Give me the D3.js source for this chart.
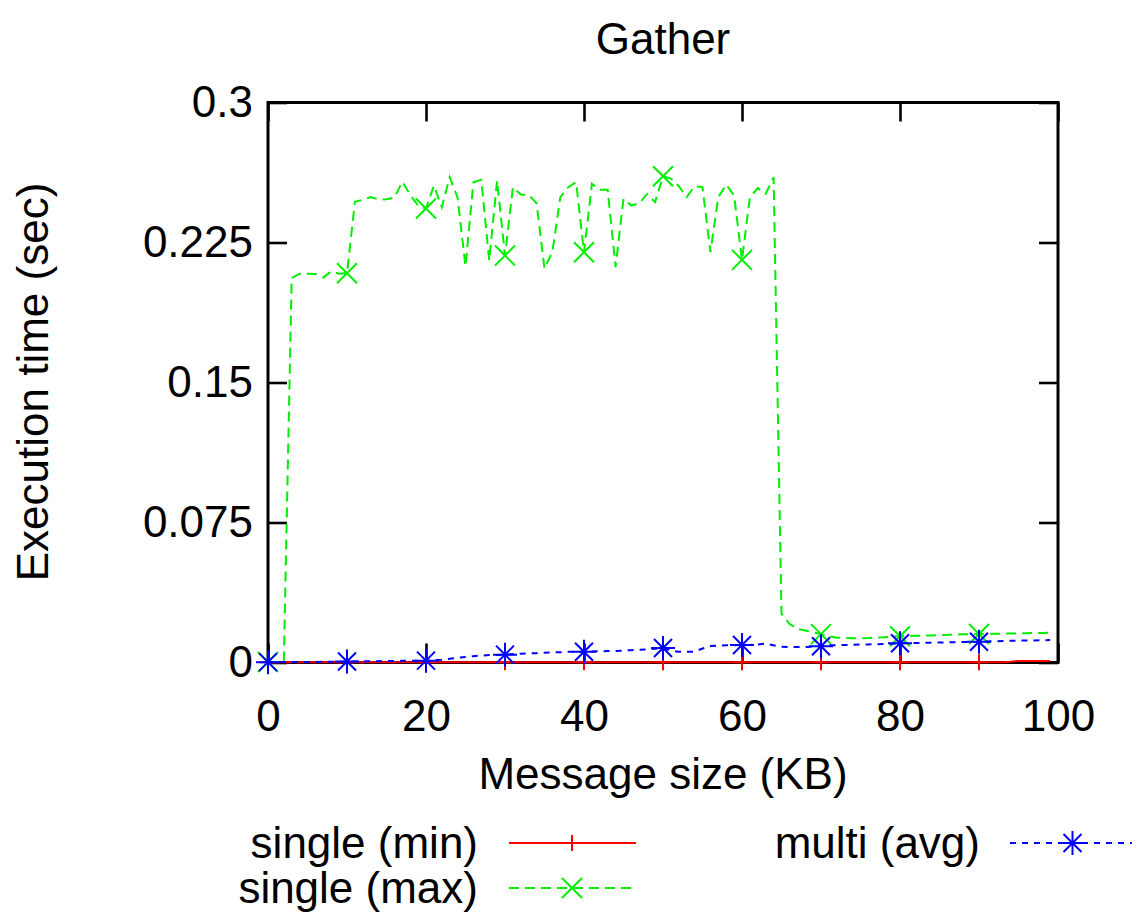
<!DOCTYPE html>
<html><head><meta charset="utf-8">
<script src="https://cdn.jsdelivr.net/npm/d3@7"></script>
<style>
body{margin:0;background:#fff;}
text{font-family:"Liberation Sans",Arial,sans-serif;}
</style></head><body>
<svg id="c" width="1132" height="913"></svg>
<script>
const title = "Gather";
const xLabel = "Message size (KB)";
const yLabel = "Execution time (sec)";
const xTicks = [0, 20, 40, 60, 80, 100];
const yTicks = [0, 0.075, 0.15, 0.225, 0.3];
const yTickLabels = ["0", "0.075", "0.15", "0.225", "0.3"];
const seriesNames = ["single (min)", "single (max)", "multi (avg)"];
// message sizes 0..99 KB
const sizes = d3.range(0, 100);
const singleMin = [
0.0002,0.0002,0.0002,0.0002,0.0002,0.0002,0.0002,0.0002,0.0002,0.0002,
0.0002,0.0002,0.0002,0.0002,0.0002,0.0002,0.0002,0.0002,0.0002,0.0002,
0.0002,0.0002,0.0002,0.0002,0.0002,0.0002,0.0002,0.0002,0.0002,0.0002,
0.0002,0.0002,0.0002,0.0002,0.0002,0.0002,0.0002,0.0002,0.0002,0.0002,
0.0002,0.0002,0.0002,0.0002,0.0002,0.0002,0.0002,0.0002,0.0002,0.0002,
0.0002,0.0002,0.0002,0.0002,0.0002,0.0002,0.0002,0.0002,0.0002,0.0002,
0.0002,0.0002,0.0002,0.0002,0.0002,0.0002,0.0002,0.0002,0.0002,0.0002,
0.0002,0.0002,0.0002,0.0002,0.0002,0.0002,0.0002,0.0002,0.0002,0.0002,
0.0002,0.0002,0.0002,0.0002,0.0002,0.0002,0.0002,0.0002,0.0002,0.0002,
0.0002,0.0002,0.0002,0.0002,0.0004,0.0008,0.0008,0.0008,0.0008,0.0008];
const singleMax = [
0.0003,0.0003,0.0004,0.2060,0.2083,0.2083,0.2081,0.2062,0.2095,0.2083,
0.2085,0.2468,0.2479,0.2494,0.2480,0.2482,0.2490,0.2576,0.2505,0.2448,
0.2432,0.2555,0.2439,0.2600,0.2490,0.2122,0.2573,0.2586,0.2154,0.2582,
0.2180,0.2546,0.2507,0.2505,0.2460,0.2110,0.2200,0.2493,0.2546,0.2573,
0.2198,0.2564,0.2532,0.2532,0.2118,0.2484,0.2448,0.2460,0.2510,0.2466,
0.2605,0.2592,0.2552,0.2493,0.2552,0.2546,0.2198,0.2493,0.2560,0.2502,
0.2157,0.2493,0.2541,0.2511,0.2600,0.0261,0.0207,0.0180,0.0171,0.0162,
0.0152,0.0140,0.0133,0.0131,0.0130,0.0130,0.0131,0.0133,0.0135,0.0138,
0.0141,0.0142,0.0143,0.0144,0.0145,0.0147,0.0148,0.0150,0.0151,0.0152,
0.0153,0.0154,0.0154,0.0155,0.0156,0.0156,0.0157,0.0158,0.0158,0.0159];
const multiAvg = [
0.0002,0.0003,0.0003,0.0003,0.0003,0.0003,0.0003,0.0004,0.0004,0.0004,
0.0005,0.0006,0.0006,0.0007,0.0007,0.0008,0.0008,0.0009,0.0009,0.0010,
0.0010,0.0012,0.0015,0.0020,0.0025,0.0030,0.0034,0.0037,0.0040,0.0040,
0.0042,0.0045,0.0047,0.0049,0.0050,0.0052,0.0054,0.0055,0.0057,0.0058,
0.0058,0.0059,0.0060,0.0061,0.0062,0.0064,0.0066,0.0068,0.0070,0.0073,
0.0078,0.0063,0.0058,0.0058,0.0058,0.0075,0.0088,0.0091,0.0092,0.0092,
0.0094,0.0094,0.0096,0.0101,0.0092,0.0085,0.0083,0.0083,0.0083,0.0084,
0.0087,0.0092,0.0093,0.0094,0.0095,0.0096,0.0097,0.0098,0.0099,0.0101,
0.0103,0.0104,0.0104,0.0105,0.0106,0.0107,0.0108,0.0109,0.0110,0.0110,
0.0111,0.0113,0.0114,0.0115,0.0116,0.0117,0.0118,0.0118,0.0119,0.0120];
const markerEvery = 10;

const svg = d3.select("#c");
const pL = 268, pR = 1058, pT = 102.5, pB = 662.5;
const x = d3.scaleLinear().domain([0, 100]).range([pL, pR]);
const y = d3.scaleLinear().domain([0, 0.3]).range([pB, pT]);
const FS = 44;
const tickLen = 19;

// axes with inward ticks
const gL = svg.append("g").attr("transform", `translate(${pL},0)`)
  .call(d3.axisLeft(y).tickValues(yTicks).tickSize(-tickLen).tickPadding(15)
    .tickFormat((d, i) => yTickLabels[i]));
const gR = svg.append("g").attr("transform", `translate(${pR},0)`)
  .call(d3.axisRight(y).tickValues(yTicks).tickSize(-tickLen).tickFormat(""));
const gB = svg.append("g").attr("transform", `translate(0,${pB})`)
  .call(d3.axisBottom(x).tickValues(xTicks).tickSize(-tickLen).tickPadding(37).tickFormat(d3.format("d")));
const gT = svg.append("g").attr("transform", `translate(0,${pT})`)
  .call(d3.axisTop(x).tickValues(xTicks).tickSize(-tickLen).tickFormat(""));
[gL, gR, gB, gT].forEach(g => {
  g.select(".domain").remove();
  g.selectAll(".tick line").attr("stroke", "#000").attr("stroke-width", 2.6);
  g.selectAll(".tick text").attr("font-size", FS).attr("fill", "#000")
    .style("font-family", '"Liberation Sans", Arial, sans-serif');
});
// frame
svg.append("rect").attr("x", pL).attr("y", pT)
  .attr("width", pR - pL).attr("height", pB - pT)
  .attr("fill", "none").attr("stroke", "#000").attr("stroke-width", 3);

// titles
svg.append("text").attr("x", 663).attr("y", 54).attr("text-anchor", "middle")
  .attr("font-size", FS).text(title);
svg.append("text").attr("x", 663).attr("y", 789).attr("text-anchor", "middle")
  .attr("font-size", FS).text(xLabel);
svg.append("text").attr("transform", "translate(48,382) rotate(-90)")
  .attr("text-anchor", "middle").attr("font-size", FS).text(yLabel);

// markers
function plus(g, cx, cy, color, r) {
  g.append("path").attr("d", `M${cx - r},${cy}H${cx + r}M${cx},${cy - r}V${cy + r}`)
    .attr("stroke", color).attr("stroke-width", 2).attr("fill", "none");
}
function cross(g, cx, cy, color, r) {
  g.append("path").attr("d", `M${cx - r},${cy - r}L${cx + r},${cy + r}M${cx - r},${cy + r}L${cx + r},${cy - r}`)
    .attr("stroke", color).attr("stroke-width", 2).attr("fill", "none");
}
function star(g, cx, cy, color, r) { plus(g, cx, cy, color, r); cross(g, cx, cy, color, r * 0.75); }

const series = [
  {name: seriesNames[0], vals: singleMin, color: "#ff0000", dash: null, mark: (g,a,b)=>plus(g,a,b,"#ff0000",8)},
  {name: seriesNames[1], vals: singleMax, color: "#00ee00", dash: "10,6", mark: (g,a,b)=>cross(g,a,b,"#00ee00",10)},
  {name: seriesNames[2], vals: multiAvg, color: "#0000ff", dash: "6,6", mark: (g,a,b)=>star(g,a,b,"#0000ff",12)}
];
const line = d3.line().x(d => x(d[0])).y(d => y(d[1]));
series.forEach(s => {
  const pts = sizes.map((k, i) => [k, s.vals[i]]);
  const g = svg.append("g");
  g.append("path").attr("d", line(pts)).attr("fill", "none")
    .attr("stroke", s.color).attr("stroke-width", 2)
    .attr("stroke-dasharray", s.dash);
  pts.filter(p => p[0] % markerEvery === 0).forEach(p => s.mark(g, x(p[0]), y(p[1])));
});

// legend
const leg = [
  {s: series[0], tx: 478, ty: 858, x1: 509, x2: 636, ly: 843},
  {s: series[1], tx: 478, ty: 903, x1: 509, x2: 636, ly: 888},
  {s: series[2], tx: 980, ty: 858, x1: 1010, x2: 1136, ly: 843}
];
leg.forEach(l => {
  svg.append("text").attr("x", l.tx).attr("y", l.ty).attr("text-anchor", "end")
    .attr("font-size", FS).text(l.s.name);
  const g = svg.append("g");
  g.append("line").attr("x1", l.x1).attr("x2", l.x2).attr("y1", l.ly).attr("y2", l.ly)
    .attr("stroke", l.s.color).attr("stroke-width", 2).attr("stroke-dasharray", l.s.dash);
  l.s.mark(g, (l.x1 + l.x2) / 2 - 0.5, l.ly);
});
</script>
</body></html>
